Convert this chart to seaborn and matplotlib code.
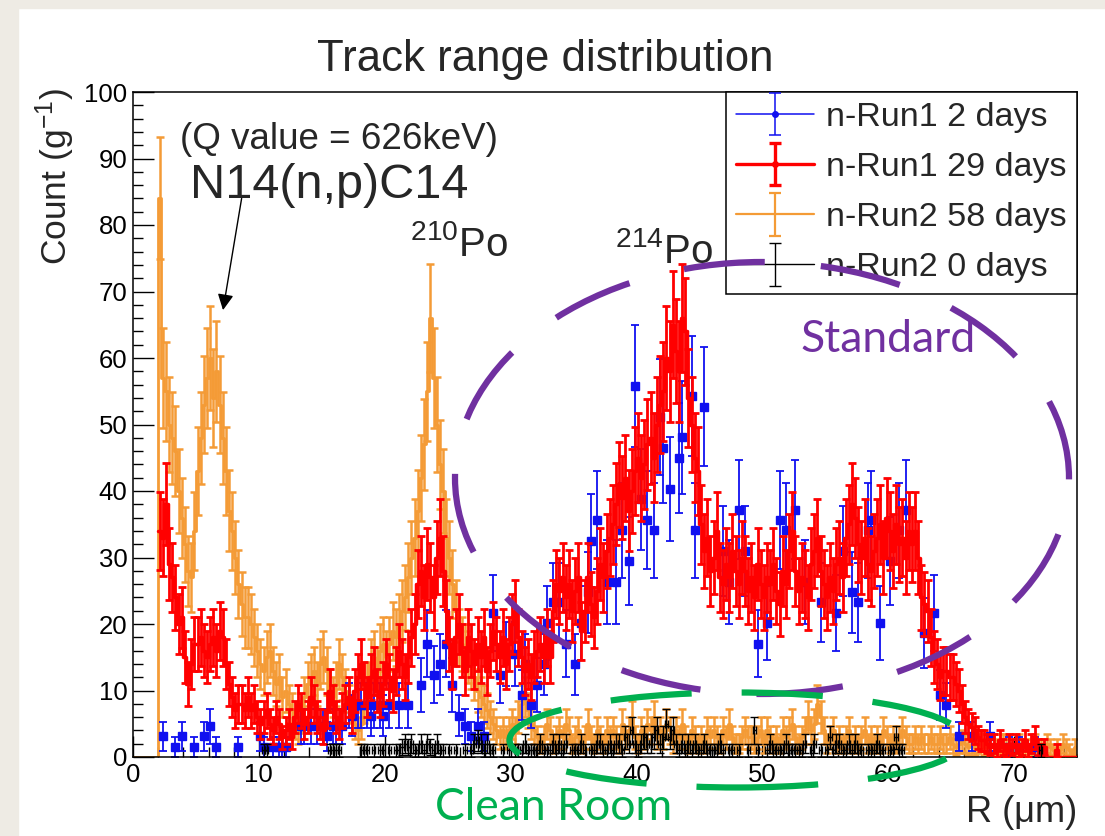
import numpy as np
import pandas as pd
import matplotlib
matplotlib.use("Agg")
import matplotlib.pyplot as plt
import seaborn as sns
from matplotlib.patches import Ellipse, Rectangle
from matplotlib.ticker import MultipleLocator
from matplotlib.container import ErrorbarContainer
from matplotlib.legend_handler import HandlerErrorbar

# Track range histogram binning (um)
BIN_WIDTH = 0.25
R_LO, R_HI = 0.0, 75.0

# Counts per gram in 0.25 um bins; each row covers one micrometre (4 bins)
run1_2days = np.array([
    [0, 0, 0, 0], [0, 0, 0, 0],
    [0, 3.1, 0, 0], [0, 1.55, 0, 3.1], [0, 0, 0, 1.55], [0, 0, 3.1, 0],
    [4.65, 0, 1.55, 0], [0, 0, 0, 0], [0, 1.55, 0, 0], [0, 0, 0, 0],
    [3.1, 1.55, 0, 0], [1.55, 0, 1.55, 1.55], [1.55, 0, 0, 0], [0, 4.65, 4.65, 0],
    [4.65, 0, 4.65, 0], [4.65, 3.1, 0, 4.65], [4.65, 0, 4.65, 0], [7.75, 6.2, 0, 7.75],
    [7.75, 0, 7.75, 6.2], [7.75, 0, 7.75, 6.2], [0, 7.75, 0, 0], [7.75, 0, 0, 7.75],
    [0, 0, 0, 10.85], [0, 17.05, 0, 12.4], [0, 13.95, 0, 17.05], [0, 10.85, 0, 6.2],
    [0, 4.65, 0, 3.1], [0, 4.65, 0, 3.1], [0, 0, 21.7, 0], [12.4, 0, 15.5, 0],
    [0, 15.5, 0, 9.3], [13.95, 0, 7.75, 0], [10.85, 0, 13.95, 20.15], [0, 23.25, 0, 23.25],
    [0, 17.05, 0, 0], [13.95, 0, 20.15, 0], [24.8, 32.55, 0, 35.65], [0, 0, 26.35, 0],
    [0, 26.35, 0, 34.1], [0, 29.45, 0, 55.8], [0, 38.75, 0, 35.65], [0, 34.1, 0, 51.15],
    [46.5, 0, 40.3, 0], [0, 44.95, 48.05, 0], [0, 54.25, 34.1, 0], [0, 52.7, 0, 0],
    [0, 0, 0, 31.0], [0, 26.35, 0, 0], [37.2, 0, 31.0, 0], [0, 0, 17.05, 0],
    [0, 20.15, 0, 0], [0, 35.65, 0, 34.1], [0, 0, 37.2, 0], [0, 26.35, 0, 0],
    [0, 0, 23.25, 0], [0, 0, 0, 21.7], [0, 31.0, 0, 0], [24.8, 0, 23.25, 0],
    [0, 34.1, 35.65, 0], [0, 20.15, 0, 0], [29.45, 0, 0, 34.1], [0, 37.2, 0, 0],
    [0, 0, 0, 18.6], [0, 0, 21.7, 0], [9.3, 0, 7.75, 0], [0, 0, 3.1, 0],
    [0, 0, 3.1, 0], [0, 0, 0, 0], [3.1, 0, 0, 0], [0, 0, 1.55, 0],
    [0, 1.55, 0, 0], [0, 0, 1.55, 0], [0, 0, 0, 0], [0, 0, 0, 0], [0, 0, 0, 0],
]).ravel()

run1_29days = np.array([
    [0, 0, 0, 0], [0, 0, 0, 0],
    [34, 33, 38, 29], [27, 24, 20, 21], [15, 11, 14, 17], [17, 18, 16, 15],
    [17, 18, 16, 19], [18, 14, 11, 9], [7, 8, 8, 7], [9, 7, 8, 6],
    [5, 6, 7, 5], [4, 6, 5, 3], [4, 5, 3, 6], [8, 7, 5, 6],
    [9, 8, 6, 5], [4, 7, 10, 8], [6, 5, 7, 8], [9, 6, 10, 12],
    [14, 11, 9, 12], [13, 10, 9, 11], [14, 12, 10, 13], [16, 14, 12, 15],
    [18, 20, 26, 28], [24, 29, 27, 24], [30, 33, 28, 22], [17, 14, 18, 20],
    [16, 13, 18, 16], [14, 17, 15, 18], [13, 16, 19, 17], [15, 18, 14, 17],
    [20, 22, 18, 15], [13, 14, 12, 15], [16, 17, 15, 18], [15, 22, 26, 25],
    [27, 24, 26, 22], [25, 27, 19, 22], [27, 23, 21, 25], [29, 27, 31, 33],
    [35, 38, 41, 39], [42, 37, 40, 43], [45, 42, 44, 47], [48, 45, 50, 53],
    [55, 60, 58, 65], [61, 58, 66, 64], [54, 50, 45, 43], [35, 31, 33, 28],
    [30, 34, 27, 26], [29, 27, 31, 28], [26, 30, 28, 25], [27, 24, 29, 26],
    [24, 27, 26, 29], [25, 23, 28, 26], [31, 34, 28, 25], [27, 26, 24, 29],
    [31, 33, 28, 26], [24, 27, 25, 29], [30, 27, 33, 35], [38, 36, 32, 30],
    [33, 29, 28, 31], [33, 35, 30, 36], [34, 31, 35, 32], [33, 30, 34, 32],
    [34, 30, 24, 23], [22, 18, 15, 14], [12, 13, 13, 12], [12, 11, 10, 8],
    [6, 5, 4.5, 4], [3, 2.5, 2.5, 2], [1.5, 2, 1, 2.5], [1.5, 1, 2, 1.5],
    [2, 1, 1.5, 2.5], [1, 2, 3, 1.5], [1, 1.5, 0, 0], [0, 1, 0, 0], [0, 0, 0, 0],
]).ravel()

run2_58days = np.array([
    [0, 0, 0, 0], [0, 0, 0, 0],
    [84, 57, 55, 50], [48, 46, 40, 36], [32, 28, 27, 34], [43, 48, 53, 57],
    [60, 54, 58, 53], [48, 43, 37, 34], [30, 26, 23, 21], [21, 20, 18, 16],
    [14, 13, 15, 16], [13, 11, 12, 9], [10, 8, 7, 5], [4, 6, 9, 11],
    [12, 13, 11, 14], [15, 13, 10, 9], [11, 14, 12, 10], [8, 6, 5, 4],
    [5, 8, 11, 14], [15, 13, 16, 17], [15, 17, 19, 18], [20, 22, 24, 27],
    [30, 33, 37, 42], [47, 55, 66, 57], [50, 44, 40, 33], [30, 26, 22, 18],
    [17, 16, 15, 14], [12, 10, 9, 8], [7, 6, 5, 4], [3, 4, 3, 4],
    [5, 4, 6, 8], [9, 7, 5, 4], [3, 2, 3, 5], [4, 2, 3, 4],
    [3, 5, 4, 2], [3, 4, 2, 3], [5, 3, 2, 4], [3, 2, 4, 3],
    [4, 3, 2, 5], [3, 4, 6, 3], [2, 4, 3, 5], [4, 6, 3, 4],
    [3, 5, 4, 2], [4, 3, 5, 3], [2, 4, 3, 2], [3, 2, 4, 3],
    [4, 3, 2, 4], [3, 5, 3, 2], [2, 3, 4, 3], [3, 2, 3, 4],
    [2, 4, 3, 2], [3, 2, 4, 3], [4, 5, 3, 2], [3, 4, 6, 4],
    [5, 8, 6, 4], [2, 3, 4, 2], [3, 2, 3, 4], [2, 3, 2, 3],
    [4, 2, 3, 2], [3, 2, 4, 3], [2, 3, 2, 3], [4, 3, 2, 2],
    [3, 2, 3, 2], [2, 3, 2, 2], [3, 2, 2, 3], [2, 1.5, 2, 2.5],
    [2, 1.5, 2, 1.5], [2, 2.5, 1.5, 2], [1.5, 2, 1.5, 2], [2, 1.5, 2, 1],
    [1.5, 2, 1, 1.5], [1, 1.5, 2, 1], [1.5, 1, 2, 1.5], [1, 1.5, 1, 2], [1.5, 1, 0.5, 1.5],
]).ravel()

run2_0days = np.array([
    [0, 0, 0, 0], [0, 0, 0, 0], [0, 0, 0, 0], [0, 0, 0, 0], [0, 0, 0, 0],
    [0, 0, 0, 0], [0, 0, 0, 0], [0, 0, 0, 0], [0, 0, 0, 0], [0, 0, 0, 0],
    [0, 1, 1, 0], [0, 0, 0, 0], [0, 0, 0, 0], [0, 0, 0, 0], [0, 0, 0, 0],
    [0, 0, 1, 1], [1, 1, 0, 0], [0, 0, 0, 0], [1, 1, 1, 0], [1, 0, 1, 1],
    [0, 1, 0, 1], [1, 1.5, 2, 1.5], [2, 1, 1, 2], [1, 2, 1.5, 1], [2, 1, 1, 0],
    [1, 0, 1, 0], [0, 1, 0, 1], [2, 2.5, 2, 1], [2, 1, 1, 0], [0, 1, 0, 1],
    [0, 1, 1, 1], [2, 1, 1, 1], [1, 2, 1, 1], [1, 2, 1, 2], [1, 2, 0, 1],
    [1, 1, 2, 1], [0, 1, 1, 2], [2, 1, 1, 2], [1, 2, 2, 1], [3, 2, 4, 2],
    [1, 2, 3, 2], [2, 3, 4, 2], [3, 5, 3, 4], [2, 1, 2, 1], [2, 1, 2, 1],
    [1, 2, 1, 1], [1, 1, 2, 1], [0, 1, 1, 0], [1, 0, 0, 1], [0, 4, 1, 0],
    [0, 1, 2, 1], [1, 1, 1, 2], [1, 1, 1, 1], [1, 2, 0, 1], [2, 0, 1, 0],
    [1, 3, 1, 2], [2, 1, 1, 2], [1, 2, 1, 1], [0, 1, 1, 1], [2, 1, 1, 0],
    [1, 1, 3, 1], [1, 0, 0, 0], [0, 0, 0, 0], [0, 0, 0, 0], [0, 0, 0, 0],
    [0, 0, 0, 0], [0, 0, 0, 0], [0, 0, 0, 0], [0, 0, 0, 0], [0, 0, 0, 0],
    [0, 0, 0, 0], [0, 0, 0, 0], [1, 0, 0, 0], [0, 0, 0, 0], [0, 0, 0, 0],
]).ravel()

series_labels = ["n-Run1 2 days", "n-Run1 29 days", "n-Run2 58 days", "n-Run2 0 days"]
# counts per gram carried by a single track in each run (sets the Poisson error)
count_weight = [1.5, 1.0, 1.0, 1.0]

BLUE, RED, ORANGE, BLACK = "#1010F0", "#FF0000", "#F49B36", "#000000"
PURPLE, GREEN, PAPER = "#7030A0", "#00B050", "#EEEBE4"

edges = np.arange(R_LO, R_HI + BIN_WIDTH / 2, BIN_WIDTH)
centers = edges[:-1] + BIN_WIDTH / 2

sns.set_theme(style="ticks")
plt.rcParams["font.family"] = ["Liberation Sans", "DejaVu Sans"]
plt.rcParams["mathtext.fontset"] = "custom"
plt.rcParams["mathtext.rm"] = "Liberation Sans"
plt.rcParams["mathtext.it"] = "Liberation Sans:italic"
plt.rcParams["mathtext.default"] = "rm"

W, H = 1105, 836
fig = plt.figure(figsize=(W / 100, H / 100), dpi=100, facecolor="white")
fig.add_artist(Rectangle((0, 0), 18 / W, 1, transform=fig.transFigure,
                         color=PAPER, zorder=-5))
fig.add_artist(Rectangle((0, 1 - 8 / H), 1, 8 / H, transform=fig.transFigure,
                         color=PAPER, zorder=-5))

ax = fig.add_axes([133 / W, 1 - 757 / H, (1077 - 133) / W, (757 - 92) / H])
ax.set_facecolor("white")


def nonzero_bars(values, weight):
    v = np.asarray(values, float)
    m = v > 0
    return centers[m], v[m], np.sqrt(v[m] * weight)


def step_outline(values, color, lw, z, from_first_entry=True):
    v = np.asarray(values, float)
    first = int(np.argmax(v > 0)) if from_first_entry else 0
    df = pd.DataFrame({"r": centers[first:], "w": v[first:]})
    sns.histplot(data=df, x="r", weights="w", binwidth=BIN_WIDTH,
                 binrange=(edges[first], R_HI), element="step", fill=False,
                 color=color, linewidth=lw, ax=ax, zorder=z)


# n-Run2 58 days (orange): outline over the whole range plus error bars
step_outline(run2_58days, ORANGE, 2.0, 2, from_first_entry=False)
x, y, e = nonzero_bars(run2_58days, count_weight[2])
ax.errorbar(x, y, yerr=e, fmt="none", ecolor=ORANGE, elinewidth=1.8,
            capsize=3, capthick=1.8, zorder=2)

# n-Run1 2 days (blue): markers with error bars
x, y, e = nonzero_bars(run1_2days, count_weight[0])
ax.errorbar(x, y, yerr=e, xerr=BIN_WIDTH / 2, fmt="s", ms=5.5, color=BLUE,
            ecolor=BLUE, elinewidth=1.3, capsize=3.2, capthick=1.3, zorder=2.5)

# n-Run1 29 days (red): thick outline plus error bars
step_outline(run1_29days, RED, 2.5, 3)
x, y, e = nonzero_bars(run1_29days, count_weight[1])
ax.errorbar(x, y, yerr=e, fmt="none", ecolor=RED, elinewidth=2.0,
            capsize=3, capthick=2.0, zorder=3)

# n-Run2 0 days (black)
x, y, e = nonzero_bars(run2_0days, count_weight[3])
ax.errorbar(x, y, yerr=e, xerr=BIN_WIDTH / 2, fmt="none", ecolor=BLACK,
            elinewidth=1.0, capsize=2.8, capthick=1.0, zorder=3.5)

ax.set_xlim(R_LO, R_HI)
ax.set_ylim(0, 100)
ax.set_xlabel("")
ax.set_ylabel("")
ax.xaxis.set_major_locator(MultipleLocator(10))
ax.xaxis.set_minor_locator(MultipleLocator(2))
ax.yaxis.set_major_locator(MultipleLocator(10))
ax.yaxis.set_minor_locator(MultipleLocator(2))
ax.tick_params(which="both", direction="in", top=False, right=False,
               width=1.0, color="black", labelsize=18.5, labelcolor="black")
ax.tick_params(which="major", length=15, pad=4)
ax.tick_params(which="minor", length=7.5)
for sp in ax.spines.values():
    sp.set_visible(True)
    sp.set_color("black")
    sp.set_linewidth(1.1)

# Legend with error-bar style entries
proxies = []
for lab, col, lw, mk in [(series_labels[0], BLUE, 1.1, "o"),
                         (series_labels[1], RED, 2.4, "o"),
                         (series_labels[2], ORANGE, 1.6, None),
                         (series_labels[3], BLACK, 1.0, None)]:
    h = ax.errorbar([np.nan], [np.nan], yerr=[1], fmt="-", color=col,
                    lw=lw, marker=mk, ms=4 if mk else 0, capsize=4,
                    capthick=lw, elinewidth=lw, label=lab)
    proxies.append(h)
leg = ax.legend(handles=proxies, loc="upper right", bbox_to_anchor=(1.0, 1.0),
                borderaxespad=0, fontsize=24.5, frameon=True, fancybox=False,
                edgecolor="black", framealpha=1, handlelength=2.3,
                handletextpad=0.35, labelspacing=0.56, borderpad=0.3,
                handler_map={ErrorbarContainer: HandlerErrorbar(yerr_size=0.62)})
leg.get_frame().set_linewidth(1.1)
leg.set_zorder(10)

# Titles and axis labels
fig.text(545 / W, 1 - 60 / H, "Track range distribution", ha="center",
         va="center", fontsize=31.5)
fig.text(55 / W, 1 - 88 / H, "Count (g$^{-1}$)", rotation=90, ha="center",
         va="top", fontsize=25.5)
fig.text(1077 / W, 1 - 812 / H, "R (\u03bcm)", ha="right", va="center", fontsize=26)

# Peak annotations
ax.text(3.7, 92.8, "(Q value = 626keV)", fontsize=26.5, ha="left", va="center")
ax.text(4.5, 86.0, "N14(n,p)C14", fontsize=35, ha="left", va="center")
ax.annotate("", xy=(7.15, 67.2), xytext=(8.63, 84.0),
            arrowprops=dict(arrowstyle="-|>", color="black", lw=1.0,
                            mutation_scale=24, shrinkA=0, shrinkB=0))
ax.text(22.0, 77.0, "$^{210}$Po", fontsize=29, ha="left", va="center")
ax.text(38.3, 76.0, "$^{214}$Po", fontsize=29, ha="left", va="center")

# Highlighted regions
fig.add_artist(Ellipse((762 / W, 1 - 478 / H), 614 / W, 432 / H,
                       transform=fig.transFigure, fill=False, edgecolor=PURPLE,
                       lw=4.5, linestyle=(0, (13, 9)), zorder=20))
fig.add_artist(Ellipse((737 / W, 1 - 740 / H), 455 / W, 95 / H,
                       transform=fig.transFigure, fill=False, edgecolor=GREEN,
                       lw=4.5, linestyle=(0, (13, 8)), zorder=20))
fig.text(800 / W, 1 - 340 / H, "Standard", color=PURPLE, fontsize=32,
         family=["Lato", "DejaVu Sans"], ha="left", va="center", zorder=21)
fig.text(435 / W, 1 - 808 / H, "Clean Room", color=GREEN, fontsize=32,
         family=["Lato", "DejaVu Sans"], ha="left", va="center", zorder=21)

fig.savefig("out.png", dpi=100, facecolor="white")
